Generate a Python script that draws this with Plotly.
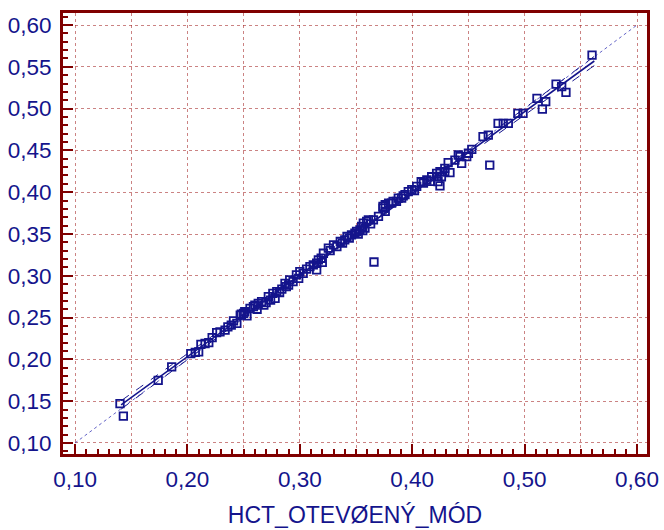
import plotly.graph_objects as go

# HCT measured in the two modes: x = open mode, y = reference mode
hct_x = [0.140, 0.143, 0.174, 0.186, 0.203, 0.207, 0.210, 0.212, 0.2157, 0.219,
         0.222, 0.226, 0.229, 0.2335, 0.236, 0.239, 0.241, 0.244, 0.247, 0.248,
         0.250, 0.251, 0.253, 0.2557, 0.2587, 0.260, 0.262, 0.263, 0.266, 0.268,
         0.270, 0.272, 0.274, 0.276, 0.278, 0.2795, 0.282, 0.284, 0.2868, 0.288,
         0.290, 0.291, 0.294, 0.297, 0.299, 0.300, 0.303, 0.306, 0.309, 0.312,
         0.315, 0.315, 0.3165, 0.319, 0.320, 0.321, 0.3254, 0.327, 0.330, 0.333,
         0.336, 0.338, 0.340, 0.342, 0.344, 0.346, 0.349, 0.3505, 0.352, 0.3535,
         0.355, 0.356, 0.3565, 0.358, 0.361, 0.3595, 0.363, 0.3655, 0.366, 0.370,
         0.374, 0.374, 0.376, 0.376, 0.379, 0.3817, 0.383, 0.386, 0.3876, 0.3906,
         0.392, 0.3936, 0.3965, 0.3996, 0.402, 0.404, 0.408, 0.410, 0.413, 0.416,
         0.4173, 0.422, 0.4217, 0.423, 0.4247, 0.4247, 0.426, 0.429, 0.429, 0.432,
         0.4336, 0.438, 0.441, 0.4425, 0.444, 0.4485, 0.450, 0.453, 0.463, 0.4677,
         0.469, 0.4764, 0.481, 0.4855, 0.494, 0.4986, 0.511, 0.5158, 0.5188, 0.528,
         0.533, 0.5368, 0.560]
hct_y = [0.147, 0.132, 0.175, 0.191, 0.207, 0.2085, 0.209, 0.218, 0.219, 0.220,
         0.226, 0.232, 0.233, 0.235, 0.239, 0.241, 0.246, 0.243, 0.253, 0.254,
         0.255, 0.257, 0.252, 0.261, 0.263, 0.265, 0.260, 0.267, 0.269, 0.265,
         0.268, 0.275, 0.271, 0.279, 0.273, 0.281, 0.280, 0.284, 0.291, 0.287,
         0.289, 0.295, 0.293, 0.301, 0.297, 0.305, 0.303, 0.308, 0.311, 0.313,
         0.307, 0.315, 0.319, 0.321, 0.316, 0.327, 0.333, 0.330, 0.337, 0.335,
         0.341, 0.339, 0.343, 0.347, 0.345, 0.349, 0.351, 0.353, 0.350, 0.355,
         0.359, 0.354, 0.363, 0.357, 0.367, 0.365, 0.362, 0.367, 0.3165, 0.371,
         0.381, 0.383, 0.377, 0.385, 0.387, 0.387, 0.389, 0.389, 0.393, 0.393,
         0.3955, 0.397, 0.4006, 0.403, 0.402, 0.407, 0.4125, 0.411, 0.4146, 0.413,
         0.4185, 0.419, 0.4226, 0.4126, 0.4075, 0.4245, 0.4185, 0.4285, 0.4245, 0.4353,
         0.4234, 0.4385, 0.4445, 0.4425, 0.4345, 0.4425, 0.4466, 0.4513, 0.4664, 0.4684,
         0.4325, 0.4824, 0.4824, 0.4824, 0.4944, 0.4944, 0.5123, 0.4995, 0.5083, 0.5294,
         0.5262, 0.5195, 0.564]

# Regression line with its confidence band
fit_x = [0.141, 0.20, 0.25, 0.30, 0.35, 0.40, 0.45, 0.50, 0.562]
fit_y = [0.1455, 0.2032, 0.2520, 0.3009, 0.3498, 0.3987, 0.4475, 0.4964, 0.5570]
band_upper = [0.1505, 0.2068, 0.2545, 0.3024, 0.3510, 0.4006, 0.4504, 0.5005, 0.5625]
band_lower = [0.1405, 0.1996, 0.2495, 0.2994, 0.3486, 0.3968, 0.4446, 0.4924, 0.5515]

# Line of identity y = x
ident = [0.10, 0.60]

# Axis ticks
x_tick_vals = [0.10, 0.15, 0.20, 0.25, 0.30, 0.35, 0.40, 0.45, 0.50, 0.55, 0.60]
x_tick_text = ["0,10", "", "0,20", "", "0,30", "", "0,40", "", "0,50", "", "0,60"]
y_tick_vals = [0.10, 0.15, 0.20, 0.25, 0.30, 0.35, 0.40, 0.45, 0.50, 0.55, 0.60]
y_tick_text = ["0,10", "0,15", "0,20", "0,25", "0,30", "0,35", "0,40", "0,45", "0,50", "0,55", "0,60"]
minor_vals = [round(0.09 + 0.01 * i, 2) for i in range(53)]

NAVY = "#14148c"
FRAME = "#800000"
GRID = "rgba(160,30,30,0.55)"
FONT = "Liberation Sans, Arial"

fig = go.Figure()
fig.add_trace(go.Scatter(x=ident, y=ident, mode="lines",
                         line=dict(color="#3a3ab8", width=0.8, dash="dot"),
                         hoverinfo="skip"))
fig.add_trace(go.Scatter(x=fit_x, y=band_upper, mode="lines",
                         line=dict(color=NAVY, width=1, dash="dash", shape="spline")))
fig.add_trace(go.Scatter(x=fit_x, y=band_lower, mode="lines",
                         line=dict(color=NAVY, width=1, dash="dash", shape="spline")))
fig.add_trace(go.Scatter(x=fit_x, y=fit_y, mode="lines",
                         line=dict(color=NAVY, width=1.6)))
fig.add_trace(go.Scatter(x=hct_x, y=hct_y, mode="markers",
                         marker=dict(symbol="square-open", size=7.5, color=NAVY,
                                     line=dict(width=1.8, color=NAVY))))

axis_common = dict(
    showline=True, linecolor=FRAME, linewidth=3, mirror=True,
    ticks="inside", ticklen=10, tickwidth=2, tickcolor=FRAME,
    showgrid=True, gridcolor=GRID, gridwidth=1, griddash="dot",
    zeroline=False, automargin=False,
    tickfont=dict(family=FONT, size=22.5, color=NAVY),
    tickmode="array",
    minor=dict(tickmode="array", tickvals=minor_vals, ticks="inside",
               ticklen=5, tickwidth=2, tickcolor=FRAME, showgrid=False),
)

fig.update_xaxes(**axis_common, range=[0.0893, 0.6089],
                 tickvals=x_tick_vals, ticktext=x_tick_text,
                 ticklabelstandoff=3,
                 title=dict(text="HCT_OTEVØENÝ_MÓD", standoff=16,
                            font=dict(family=FONT, size=23, color=NAVY)))
fig.update_yaxes(**axis_common, range=[0.0868, 0.6144],
                 tickvals=y_tick_vals, ticktext=y_tick_text,
                 ticklabelstandoff=4)

fig.update_layout(
    width=664, height=530,
    margin=dict(l=63, r=17, t=13, b=76),
    plot_bgcolor="white", paper_bgcolor="white",
    showlegend=False,
)

fig.write_html("out.html")
